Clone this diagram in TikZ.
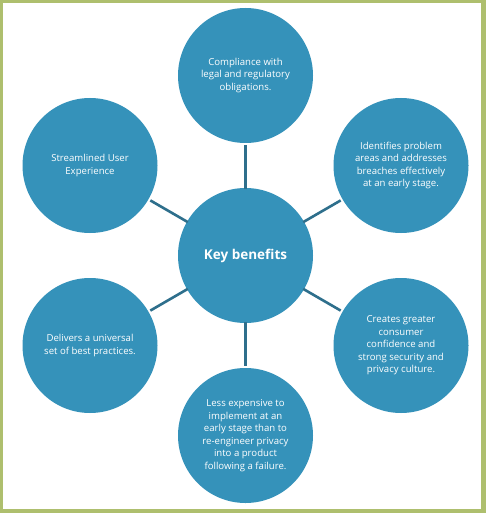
\documentclass[tikz,border=0pt]{standalone}
\usepackage{fontspec}
\setmainfont{Open Sans}
\definecolor{frame}{HTML}{AEBF6E}
\definecolor{disc}{HTML}{3592BA}
\definecolor{link}{HTML}{2E6F8C}
\begin{document}
\begin{tikzpicture}[x=1pt,y=-1pt,
  bubble/.style={circle,fill=disc,draw=none,minimum size=135pt,inner sep=0pt,
    text=white,align=center,font=\fontsize{9.6}{12.5}\selectfont},
  hub/.style={bubble,font=\fontsize{13.5}{16}\selectfont\bfseries},
  link/.style={draw=link,line width=2.6pt,shorten <=-1pt,shorten >=2pt}]
\fill[frame] (0,0) rectangle (486,513);
\fill[white] (3,3) rectangle (481,509);
\useasboundingbox (0,0) rectangle (486,513);
\node[hub] (c) at (245.5,255.5) {Key benefits};
\node[bubble] (t) at (245.5,75.5) {Compliance with\\legal and regulatory\\obligations.};
\node[bubble] (tr) at (401,165.5) {Identifies problem\\areas and addresses\\breaches effectively\\at an early stage.};
\node[bubble] (br) at (401,345.5) {Creates greater\\consumer\\confidence and\\strong security and\\privacy culture.};
\node[bubble] (b) at (245.5,435.5) {Less expensive to\\implement at an\\early stage than to\\re-engineer privacy\\into a product\\following a failure.};
\node[bubble] (bl) at (90,345.5) {Delivers a universal\\set of best practices.};
\node[bubble] (tl) at (90,165.5) {Streamlined User\\Experience};
\foreach \n in {t,tr,br,b,bl,tl} \draw[link] (c) -- (\n);
\end{tikzpicture}
\end{document}
